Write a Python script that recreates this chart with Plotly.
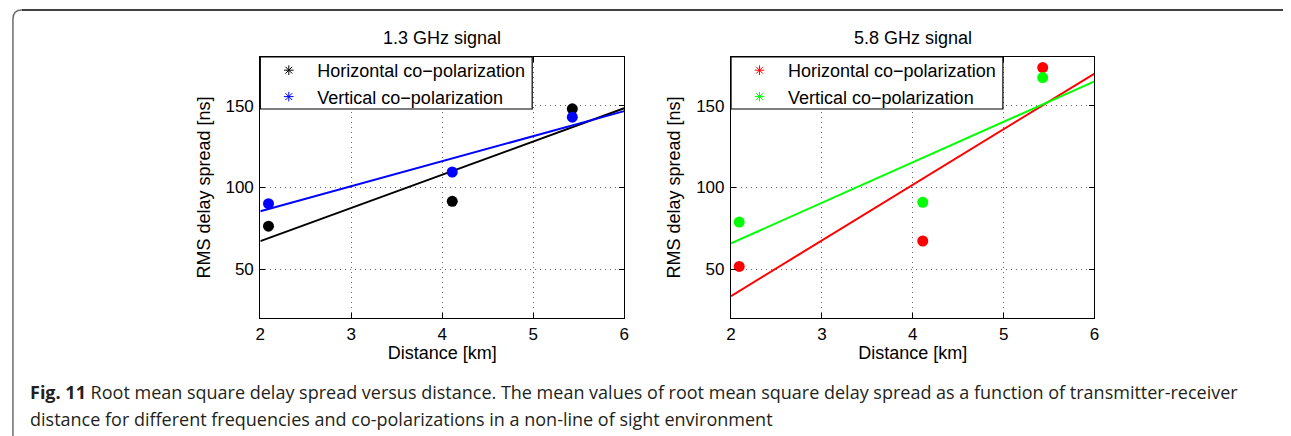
import numpy as np
import plotly.graph_objects as go

W, H = 1291, 436

# Mean RMS delay spread [ns] at each transmitter-receiver distance [km]
distance_km = [2.09, 4.11, 5.43]
rms_13_horizontal = [76.3, 91.5, 148.2]
rms_13_vertical = [90.1, 109.5, 143.1]
rms_58_horizontal = [51.6, 67.2, 173.5]
rms_58_vertical = [78.8, 90.9, 167.4]

fit_span_km = [2, 6]
x_ticks = [2, 3, 4, 5, 6]
y_ticks = [50, 100, 150]
panel_titles = ["1.3 GHz signal", "5.8 GHz signal"]
series_names = ["Horizontal co\u2212polarization", "Vertical co\u2212polarization"]
caption_line1 = ("<b>Fig. 11</b> Root mean square delay spread versus distance. The mean values of "
                 "root mean square delay spread as a function of transmitter-receiver")
caption_line2 = ("distance for different frequencies and co-polarizations in a non-line of sight environment")

FONT = "Liberation Sans, Arial, sans-serif"


def px_x(p):
    return p / W


def px_y(p):
    return 1 - p / H


panels = [
    dict(xaxis="x", yaxis="y", legend="legend",
         series=[(rms_13_horizontal, "#000000"), (rms_13_vertical, "#0000ff")]),
    dict(xaxis="x2", yaxis="y2", legend="legend2",
         series=[(rms_58_horizontal, "#ff0000"), (rms_58_vertical, "#00ff00")]),
]

fig = go.Figure()
fit_x = np.array(fit_span_km, dtype=float)
for panel in panels:
    for (values, color), name in zip(panel["series"], series_names):
        # least-squares line through the three mean values
        slope, intercept = np.polyfit(distance_km, values, 1)
        fig.add_trace(go.Scatter(
            x=fit_x, y=slope * fit_x + intercept, mode="lines",
            line=dict(color=color, width=2), showlegend=False,
            xaxis=panel["xaxis"], yaxis=panel["yaxis"]))
        fig.add_trace(go.Scatter(
            x=distance_km, y=values, mode="markers",
            marker=dict(color=color, size=11, symbol="circle"), showlegend=False,
            xaxis=panel["xaxis"], yaxis=panel["yaxis"]))
    for (values, color), name in zip(panel["series"], series_names):
        fig.add_trace(go.Scatter(
            x=[None], y=[None], mode="markers", name=name,
            marker=dict(color=color, size=8, symbol="asterisk-open",
                        line=dict(color=color, width=1)),
            legend=panel["legend"], xaxis=panel["xaxis"], yaxis=panel["yaxis"]))

plot_top, plot_bottom = 57, 318
x_domains = [(257.3, 624), (731.7, 1098)]
legend_box_w, legend_box_h = 274, 52

axis_common = dict(
    showline=True, linecolor="black", linewidth=1.2, mirror="ticks",
    ticks="inside", ticklen=5, tickcolor="black",
    showgrid=True, gridcolor="#666666", gridwidth=1, griddash="1px,4px",
    zeroline=False, tickfont=dict(family=FONT, size=17, color="black"),
)

layout_axes = {}
for i, (x0, x1) in enumerate(x_domains):
    sfx = "" if i == 0 else str(i + 1)
    layout_axes["xaxis" + sfx] = dict(
        axis_common, domain=[px_x(x0), px_x(x1)], range=[2, 6],
        tickvals=x_ticks, anchor="y" + sfx, ticklabelstandoff=0,
        title=dict(text="Distance [km]", font=dict(family=FONT, size=18, color="black"),
                   standoff=3))
    layout_axes["yaxis" + sfx] = dict(
        axis_common, domain=[px_y(plot_bottom), px_y(plot_top)], range=[20, 180],
        tickvals=y_ticks, anchor="x" + sfx, ticklabelstandoff=2,
        title=dict(text="RMS delay spread [ns]", font=dict(family=FONT, size=18, color="black"),
                   standoff=10))

# legend entries sit on an opaque framed box drawn as a shape
legend_common = dict(
    bgcolor="rgba(0,0,0,0)", borderwidth=0,
    font=dict(family=FONT, size=18, color="black"),
    xanchor="left", yanchor="top", itemwidth=47, tracegroupgap=0,
    itemclick=False, itemdoubleclick=False,
)

annotations = []
for (x0, x1), title in zip(x_domains, panel_titles):
    annotations.append(dict(
        text=title, x=px_x((x0 + x1) / 2), y=px_y(38), xref="paper", yref="paper",
        xanchor="center", yanchor="middle", showarrow=False,
        font=dict(family=FONT, size=18, color="black")))
for text, yc in [(caption_line1, 392), (caption_line2, 419)]:
    annotations.append(dict(
        text=text, x=px_x(23), y=px_y(yc), xref="paper", yref="paper",
        xanchor="left", yanchor="middle", showarrow=False, align="left",
        font=dict(family="Open Sans, sans-serif", size=18, color="#231f20")))

shapes = [
    dict(type="line", xref="paper", yref="paper",
         x0=px_x(17), x1=px_x(1288), y0=px_y(10), y1=px_y(10),
         line=dict(color="black", width=1.5)),
    dict(type="path", xref="paper", yref="paper",
         path=(f"M {px_x(8)},{px_y(H)} L {px_x(8)},{px_y(19)} "
               f"Q {px_x(8)},{px_y(10)} {px_x(17)},{px_y(10)}"),
         line=dict(color="#6d6d6d", width=1.5)),
]
for x0, _ in x_domains:
    shapes.append(dict(
        type="rect", xref="paper", yref="paper", layer="above",
        x0=px_x(x0), x1=px_x(x0 + legend_box_w),
        y0=px_y(plot_top + legend_box_h), y1=px_y(plot_top),
        fillcolor="white", line=dict(color="black", width=1.2)))

fig.update_layout(
    width=W, height=H, autosize=False,
    margin=dict(l=0, r=0, t=0, b=0),
    paper_bgcolor="white", plot_bgcolor="white",
    font=dict(family=FONT, color="black"),
    legend=dict(legend_common, x=px_x(x_domains[0][0]), y=px_y(52)),
    legend2=dict(legend_common, x=px_x(x_domains[1][0]), y=px_y(52)),
    annotations=annotations, shapes=shapes,
    **layout_axes,
)

fig.write_html("out.html")
